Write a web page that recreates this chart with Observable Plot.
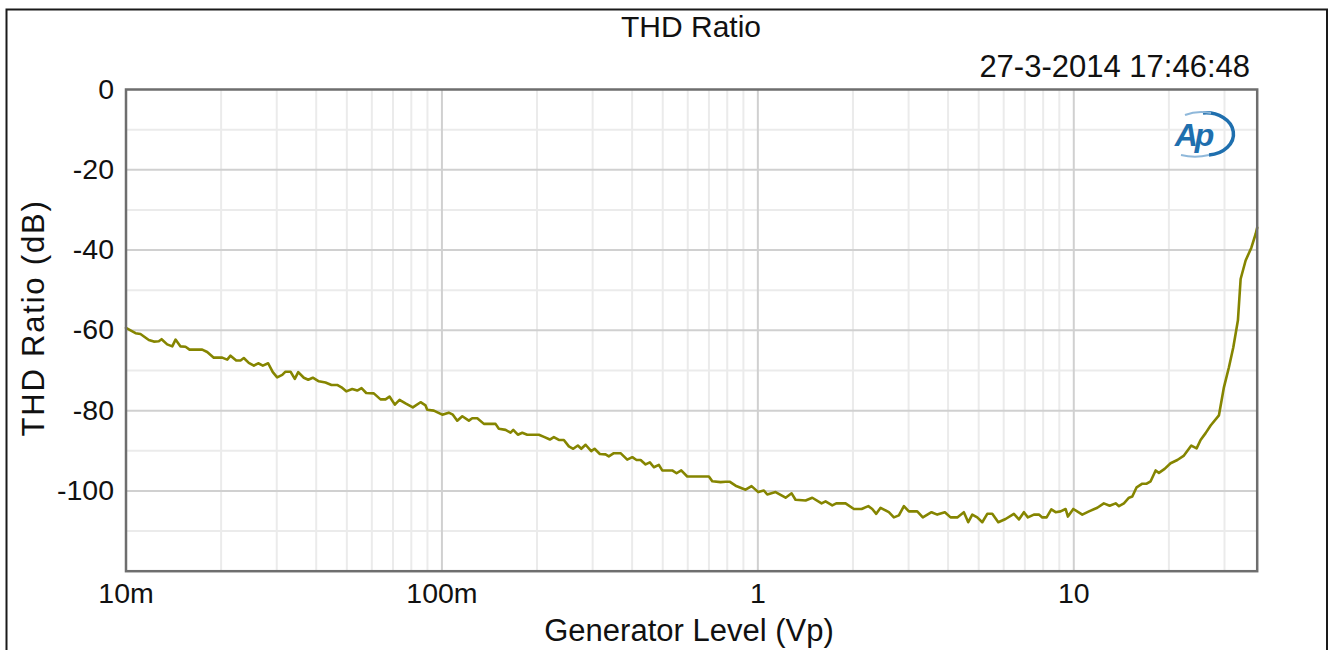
<!DOCTYPE html>
<html>
<head>
<meta charset="utf-8">
<script src="https://cdn.jsdelivr.net/npm/d3@7"></script>
<script src="https://cdn.jsdelivr.net/npm/@observablehq/plot@0.6"></script>
<style>
  html, body { margin: 0; padding: 0; background: #fff; }
  #chart { width: 1330px; height: 650px; overflow: hidden; }
</style>
</head>
<body>
<div id="chart"></div>
<script>
// ---- Data (Generator Level in Vp, THD Ratio in dB) ----
const level = [
  0.0100, 0.01072, 0.01111, 0.01181, 0.01225, 0.0127, 0.01296, 0.0135, 0.01401, 0.01435,
  0.01488, 0.01543, 0.01589, 0.01743, 0.01807, 0.01896, 0.02016, 0.02091, 0.02142, 0.02233,
  0.02304, 0.0236, 0.02447, 0.02539, 0.02621, 0.02711, 0.02818, 0.02915, 0.0301, 0.03123,
  0.03198, 0.03317, 0.03422, 0.03509, 0.03655, 0.03774, 0.03902, 0.04077, 0.0428, 0.04471,
  0.04661, 0.04809, 0.04979, 0.05201, 0.05394, 0.05566, 0.0576, 0.06087, 0.06391, 0.06629,
  0.06825, 0.07095, 0.07342, 0.07669, 0.08089, 0.08557, 0.08874, 0.08984, 0.09428, 0.1002,
  0.1051, 0.1083, 0.1118, 0.116, 0.1217, 0.1247, 0.1294, 0.1358, 0.1478, 0.1514,
  0.159, 0.1649, 0.1682, 0.1739, 0.1796, 0.1862, 0.2027, 0.2113, 0.2196, 0.2261,
  0.2345, 0.2432, 0.2522, 0.2604, 0.2693, 0.2761, 0.2849, 0.2969, 0.3042, 0.3161,
  0.3295, 0.3375, 0.3501, 0.3676, 0.386, 0.4005, 0.413, 0.4255, 0.4412, 0.4552,
  0.4687, 0.486, 0.4982, 0.5358, 0.5529, 0.5721, 0.5977, 0.6998, 0.7174, 0.762,
  0.7904, 0.8137, 0.8501, 0.9145, 0.9552, 1.003, 1.045, 1.071, 1.138, 1.224,
  1.279, 1.316, 1.416, 1.487, 1.591, 1.638, 1.72, 1.771, 1.895, 2.014,
  2.13, 2.237, 2.302, 2.37, 2.446, 2.598, 2.695, 2.795, 2.899, 3.006,
  3.195, 3.328, 3.546, 3.697, 3.908, 4.074, 4.278, 4.488, 4.634, 4.772,
  4.949, 5.133, 5.323, 5.521, 5.768, 6.083, 6.463, 6.704, 6.952, 7.157,
  7.477, 7.755, 7.949, 8.204, 8.489, 8.759, 9.083, 9.421, 9.581, 9.966,
  10.64, 11.17, 11.87, 12.45, 12.99, 13.57, 13.9, 14.41, 14.95, 15.32,
  15.81, 16.48, 17.01, 17.51, 18.16, 18.6, 19.39, 20.25, 21.27, 22.32,
  23.55, 24.48, 25.2, 26.14, 27.11, 28.8, 29.87, 30.98, 31.99, 33.08,
  33.74, 34.99, 36.48, 37.64, 38.07
];
const thd = [
  -59.4, -60.7, -60.9, -62.4, -62.8, -62.7, -62.2, -63.5, -64.0, -62.3,
  -64.0, -64.1, -64.8, -64.8, -65.4, -66.8, -66.8, -67.3, -66.3, -67.5,
  -67.5, -66.9, -68.1, -68.8, -68.2, -68.8, -68.2, -70.4, -71.7, -71.1,
  -70.3, -70.3, -72.1, -70.4, -71.8, -72.3, -71.8, -72.7, -73.0, -73.6,
  -73.6, -74.2, -75.2, -74.6, -75.0, -74.4, -75.6, -75.7, -77.2, -77.2,
  -76.5, -78.5, -77.3, -78.2, -79.2, -77.9, -78.7, -79.8, -80.0, -81.0,
  -80.5, -81.0, -82.5, -81.4, -82.5, -81.9, -81.9, -83.3, -83.3, -84.5,
  -84.8, -85.5, -84.8, -86.0, -85.5, -86.0, -86.0, -86.6, -87.2, -86.6,
  -87.3, -87.3, -88.9, -89.5, -88.7, -89.5, -88.5, -90.1, -89.5, -90.8,
  -90.9, -91.4, -90.6, -90.6, -92.2, -91.6, -92.3, -92.3, -93.4, -92.9,
  -94.1, -93.5, -94.9, -94.9, -95.6, -94.9, -96.4, -96.4, -97.6, -97.8,
  -97.7, -97.7, -98.7, -99.7, -98.8, -100.3, -99.9, -100.9, -100.3, -101.7,
  -100.6, -102.2, -102.4, -101.7, -103.1, -102.6, -103.6, -103.1, -103.1, -104.5,
  -104.5, -103.8, -104.5, -105.7, -104.2, -105.3, -106.6, -106.1, -103.8, -105.1,
  -105.1, -106.6, -105.3, -105.9, -105.3, -106.6, -106.6, -105.3, -107.8, -105.9,
  -106.6, -107.8, -105.7, -105.7, -107.8, -107.0, -105.7, -107.1, -105.3, -106.6,
  -105.9, -105.9, -106.6, -106.6, -104.6, -105.3, -105.1, -104.5, -106.4, -104.5,
  -105.9, -105.1, -104.2, -103.1, -103.7, -103.1, -103.8, -103.1, -101.7, -101.4,
  -99.1, -98.2, -98.2, -97.6, -94.9, -95.5, -94.5, -93.1, -92.3, -91.2,
  -88.7, -89.4, -87.3, -85.6, -83.7, -81.2, -74.2, -69.2, -64.2, -57.5,
  -47.2, -42.6, -39.4, -36.0, -34.4
];

// Axis ticks and grid positions
const xTicks = [0.01, 0.1, 1, 10];
const xTickLabels = ["10m", "100m", "1", "10"];
const xMajorGrid = [0.1, 1, 10];
const xMinorGrid = [0.02, 0.03, 0.04, 0.05, 0.06, 0.07, 0.08, 0.09,
                    0.2, 0.3, 0.4, 0.5, 0.6, 0.7, 0.8, 0.9,
                    2, 3, 4, 5, 6, 7, 8, 9, 20, 30];
const yTicks = [0, -20, -40, -60, -80, -100];
const yTickLabels = ["0", "-20", "-40", "-60", "-80", "-100"];
const yMajorGrid = [-20, -40, -60, -80, -100];
const yMinorGrid = [-10, -30, -50, -70, -90, -110];

const titleText = "THD Ratio";
const dateText = "27-3-2014 17:46:48";
const xLabel = "Generator Level (Vp)";
const yLabel = "THD Ratio (dB)";

const data = level.map((v, i) => ({level: v, thd: thd[i]}));

const W = 1330, H = 650;
const mL = 125.5, mR = 73.3, mT = 89, mB = 79.3;
const font = "'Liberation Sans', Arial, Helvetica, sans-serif";

const chart = Plot.plot({
  width: W,
  height: H,
  marginLeft: mL,
  marginRight: mR,
  marginTop: mT,
  marginBottom: mB,
  style: {fontFamily: font, fontSize: "28.5px", color: "#111", background: "#fff", overflow: "visible"},
  x: {
    type: "log",
    domain: [0.01, 38.07],
    ticks: xTicks,
    tickFormat: d => xTickLabels[xTicks.indexOf(d)],
    tickSize: 0,
    tickPadding: 12,
    label: null
  },
  y: {
    domain: [-120, 0],
    ticks: yTicks,
    tickFormat: d => yTickLabels[yTicks.indexOf(d)],
    tickSize: 0,
    tickPadding: 12,
    label: null
  },
  marks: [
    Plot.ruleX(xMinorGrid, {stroke: "#ebebeb", strokeWidth: 2}),
    Plot.ruleY(yMinorGrid, {stroke: "#ebebeb", strokeWidth: 2}),
    Plot.ruleX(xMajorGrid, {stroke: "#d0d0d0", strokeWidth: 2}),
    Plot.ruleY(yMajorGrid, {stroke: "#d0d0d0", strokeWidth: 2}),
    Plot.line(data, {x: "level", y: "thd", stroke: "#858500", strokeWidth: 2.6, strokeLinejoin: "round"}),
    Plot.frame({stroke: "#6e6e6e", strokeWidth: 2.5})
  ]
});

const svg = d3.select(chart);
// outer border
svg.append("rect")
  .attr("x", 6.5).attr("y", 9.5)
  .attr("width", 1320.5).attr("height", 700)
  .attr("fill", "none").attr("stroke", "#1a1a1a").attr("stroke-width", 2);

const addText = (txt, x, y, anchor, size) => svg.append("text")
    .attr("x", x).attr("y", y)
    .attr("text-anchor", anchor)
    .attr("font-family", font)
    .attr("font-size", size)
    .attr("fill", "#111")
    .text(txt);

addText(titleText, 691, 37, "middle", 30);
addText(dateText, 1250, 77, "end", 31);
addText(xLabel, 689, 641, "middle", 31);
svg.append("text")
  .attr("transform", "translate(44,318) rotate(-90)")
  .attr("text-anchor", "middle")
  .attr("font-family", font)
  .attr("font-size", 31)
  .attr("letter-spacing", 1.8)
  .attr("fill", "#111")
  .text(yLabel);

// AP logo (decoration)
const logo = svg.append("g").attr("transform", "translate(1195,135)");
logo.append("path")
  .attr("d", "M 8 -22 A 26 20 0 0 1 14 20")
  .attr("fill", "none").attr("stroke", "#1f6fae").attr("stroke-width", 3.5);
logo.append("path")
  .attr("d", "M -10 -20 A 30 18 0 0 1 16 -22")
  .attr("fill", "none").attr("stroke", "#8fb8da").attr("stroke-width", 2);
logo.append("path")
  .attr("d", "M -14 20 A 30 14 0 0 0 14 20")
  .attr("fill", "none").attr("stroke", "#8fb8da").attr("stroke-width", 2);
logo.append("text")
  .attr("x", -2).attr("y", 11)
  .attr("text-anchor", "middle")
  .attr("font-family", font)
  .attr("font-size", 32)
  .attr("font-style", "italic")
  .attr("font-weight", "bold")
  .attr("fill", "#1f6fae")
  .attr("letter-spacing", -3)
  .text("Ap");

document.getElementById("chart").appendChild(chart);
</script>
</body>
</html>
